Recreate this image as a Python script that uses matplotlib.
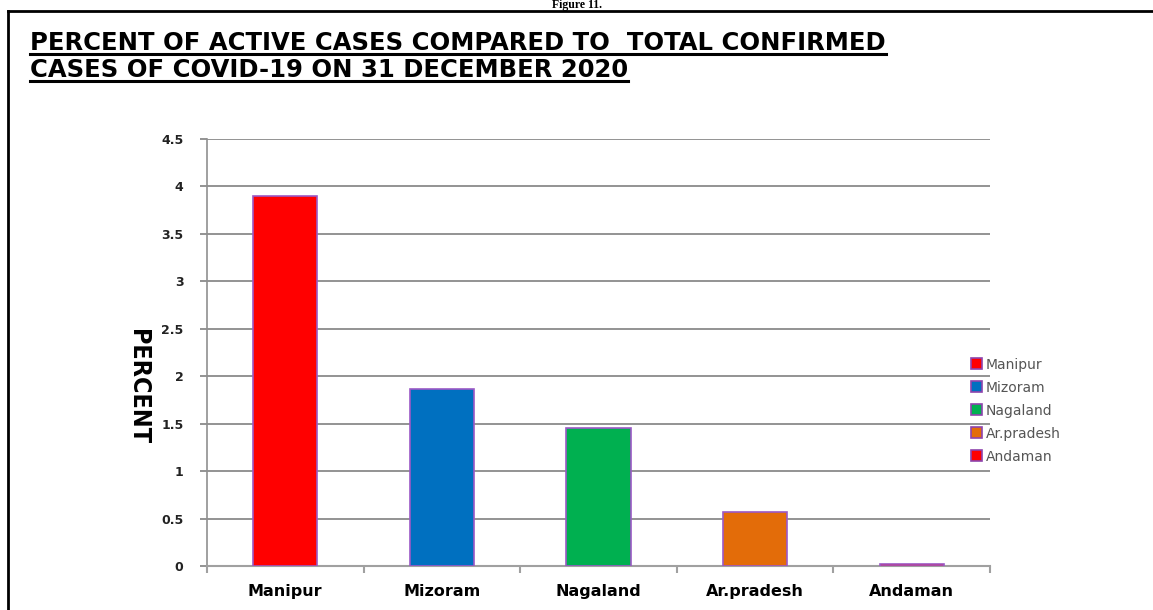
import matplotlib
matplotlib.use("Agg")
import matplotlib.pyplot as plt
from matplotlib.lines import Line2D
from matplotlib.patches import Patch

states = ["Manipur", "Mizoram", "Nagaland", "Ar.pradesh", "Andaman"]
percent = [3.9, 1.87, 1.45, 0.57, 0.02]
colors = ["#FF0000", "#0070C0", "#00B050", "#E36C09", "#FF0000"]
yticks = [0, 0.5, 1, 1.5, 2, 2.5, 3, 3.5, 4, 4.5]

W, H = 1153, 610
fig = plt.figure(figsize=(W / 100, H / 100), dpi=100)
ax = fig.add_axes([207 / W, 1 - 566 / H, (990 - 207) / W, (566 - 139) / H])

x = list(range(len(states)))
ax.bar(x, percent, width=0.41, color=colors, edgecolor="#9B59C6", linewidth=1.2, zorder=3)

ax.set_xlim(-0.5, len(states) - 0.5)
ax.set_ylim(0, 4.5)
ax.set_yticks(yticks)
ax.set_yticklabels([f"{t:g}" for t in yticks], fontsize=9, fontweight="bold", color="#222222")
ax.set_xticks(x)
ax.set_xticklabels(states, fontsize=11.5, fontweight="bold")
ax.tick_params(axis="x", which="major", length=0, pad=13)
ax.set_xticks([i - 0.5 for i in range(len(states) + 1)], minor=True)
ax.tick_params(axis="x", which="minor", length=5, color="#A0A0A0", width=1.5, direction="out")
ax.tick_params(axis="y", length=5, color="#808080", width=1.2, pad=12)
ax.grid(axis="y", color="#808080", linewidth=1.2, zorder=0)
for side in ["top", "right"]:
    ax.spines[side].set_visible(False)
ax.spines["left"].set_color("#909090")
ax.spines["bottom"].set_color("#A0A0A0")
ax.spines["left"].set_linewidth(1.2)
ax.spines["bottom"].set_linewidth(1.5)

fig.text(138 / W, 1 - 387 / H, "PERCENT", rotation=-90, ha="center", va="center",
         fontsize=18, fontweight="bold", fontstretch="condensed", family=["DejaVu Sans"])

handles = [Patch(facecolor=c, edgecolor="#8E44AD", linewidth=1.2) for c in colors]
leg = fig.legend(handles, states, loc="upper left", bbox_to_anchor=(958 / W, 1 - 345 / H),
                 frameon=False, fontsize=10, handlelength=0.8, handleheight=0.8,
                 handletextpad=0.3, labelspacing=0.65)
for t in leg.get_texts():
    t.set_color("#555555")

# title with underlines
title_lines = ["PERCENT OF ACTIVE CASES COMPARED TO  TOTAL CONFIRMED",
               "CASES OF COVID-19 ON 31 DECEMBER 2020"]
baselines = [50, 77]
texts = []
for s, b in zip(title_lines, baselines):
    texts.append(fig.text(30 / W, 1 - b / H, s, ha="left", va="baseline", fontsize=17.5,
                          fontweight="heavy", family=["DejaVu Sans"]))
fig.canvas.draw()
r = fig.canvas.get_renderer()
for t, b in zip(texts, baselines):
    bb = t.get_window_extent(r)
    y = 1 - (b + 4) / H
    fig.add_artist(Line2D([bb.x0 / W, bb.x1 / W], [y, y], color="black", linewidth=2.2))

# caption and frame
fig.text(0.5, 1 - 8 / H, "Figure 11.", ha="center", va="baseline", fontsize=8.5,
         fontweight="bold", family=["Liberation Serif"])
fig.add_artist(Line2D([8 / W, 1], [1 - 11 / H, 1 - 11 / H], color="black", linewidth=2))
fig.add_artist(Line2D([8 / W, 8 / W], [1 - 11 / H, 0], color="black", linewidth=2))

fig.savefig("out.png", dpi=100)
